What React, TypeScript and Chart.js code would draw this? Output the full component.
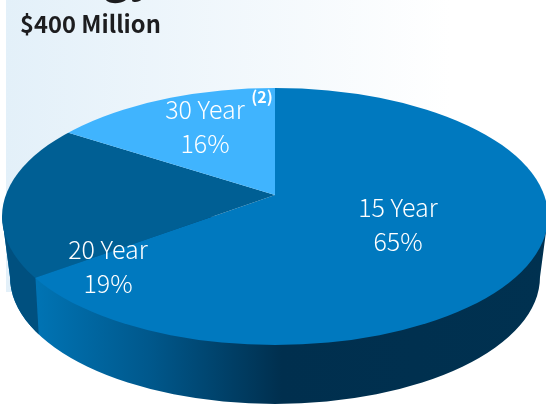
import { useEffect, useRef } from "react";
import { Chart, registerables } from "chart.js";

Chart.register(...registerables);

const terms = ["15 Year", "20 Year", "30 Year"];
const shares = [65, 19, 16];
const sliceColors = ["#0079bf", "#005f94", "#40b4fe"];
const headline = "$400 Million";

const FONT = '"Noto Sans CJK SC", "Noto Sans", sans-serif';

// Top face outline and the apex the wedges radiate from.
const face = { cx: 275, cy: 216.5, rx: 273, ry: 128.5 };
const base = { cx: 275, cy: 277, rx: 265, ry: 127 };
const apex = { x: 275, y: 195 };
const tilt = 0.475;

const labelSpots = [
  { x: 398, y: 217 },
  { x: 108, y: 259 },
  { x: 205, y: 119 },
];

const tiltPlugin = {
  id: "tilt",
  beforeDatasetsDraw(chart: any) {
    const { ctx } = chart;

    // Backdrop panel
    const panel = ctx.createLinearGradient(6, 0, 450, 0);
    panel.addColorStop(0, "#e3f0f9");
    panel.addColorStop(1, "#ffffff");
    ctx.fillStyle = panel;
    ctx.fillRect(6, 0, 540, 292);

    ctx.fillStyle = "#1d1d1f";
    ctx.textAlign = "left";
    ctx.textBaseline = "alphabetic";
    ctx.font = `bold 23.7px ${FONT}`;
    ctx.fillText(headline, 20, 33);

    // Tail of the heading cut off by the top edge
    ctx.font = `bold 44px ${FONT}`;
    ctx.textAlign = "right";
    ctx.fillText("gy", 155, -8);

    // Side wall of the disc
    const wall = () => {
      ctx.beginPath();
      ctx.moveTo(face.cx - face.rx, face.cy);
      ctx.lineTo(base.cx - base.rx, base.cy);
      ctx.ellipse(base.cx, base.cy, base.rx, base.ry, 0, Math.PI, 0, true);
      ctx.lineTo(face.cx + face.rx, face.cy);
      ctx.closePath();
    };
    const shade = ctx.createLinearGradient(38, 0, 546, 0);
    shade.addColorStop(0, "#0073b3");
    shade.addColorStop(0.22, "#00588c");
    shade.addColorStop(0.48, "#002f4e");
    shade.addColorStop(1, "#003150");
    wall();
    ctx.fillStyle = shade;
    ctx.fill();

    ctx.save();
    wall();
    ctx.clip();
    ctx.beginPath();
    ctx.moveTo(0, 200);
    ctx.lineTo(35, 270);
    ctx.lineTo(39, 340);
    ctx.lineTo(0, 340);
    ctx.closePath();
    ctx.fillStyle = "#00507f";
    ctx.fill();
    ctx.restore();

    // Wedges are drawn tilted and cut to the top face
    const arc = chart.getDatasetMeta(0).data[0];
    ctx.save();
    ctx.beginPath();
    ctx.ellipse(face.cx, face.cy, face.rx, face.ry, 0, 0, Math.PI * 2);
    ctx.clip();
    ctx.translate(apex.x, apex.y);
    ctx.scale(1, tilt);
    ctx.translate(-arc.x, -arc.y);
  },
  afterDatasetsDraw(chart: any) {
    const { ctx } = chart;
    ctx.restore();

    ctx.fillStyle = "#ffffff";
    ctx.textAlign = "center";
    ctx.textBaseline = "alphabetic";
    ctx.font = `300 25px ${FONT}`;
    terms.forEach((term, i) => {
      const spot = labelSpots[i];
      ctx.fillText(term, spot.x, spot.y);
      ctx.fillText(`${shares[i]}%`, spot.x, spot.y + 34);
    });
    ctx.font = `bold 16px ${FONT}`;
    ctx.fillText("(2)", 262, 103);
  },
};

export default function App() {
  const ref = useRef<HTMLCanvasElement>(null);
  useEffect(() => {
    document.body.style.margin = "0";
    const chart = new Chart(ref.current!, {
      type: "pie",
      data: {
        labels: terms,
        datasets: [
          {
            data: shares,
            backgroundColor: sliceColors,
            borderWidth: 0,
            clip: false,
          } as any,
        ],
      },
      options: {
        animation: false,
        responsive: false,
        radius: 400,
        plugins: { legend: { display: false }, tooltip: { enabled: false } },
      } as any,
      plugins: [tiltPlugin],
    });
    return () => chart.destroy();
  }, []);
  return <canvas ref={ref} width={546} height={404} style={{ display: "block" }} />;
}
